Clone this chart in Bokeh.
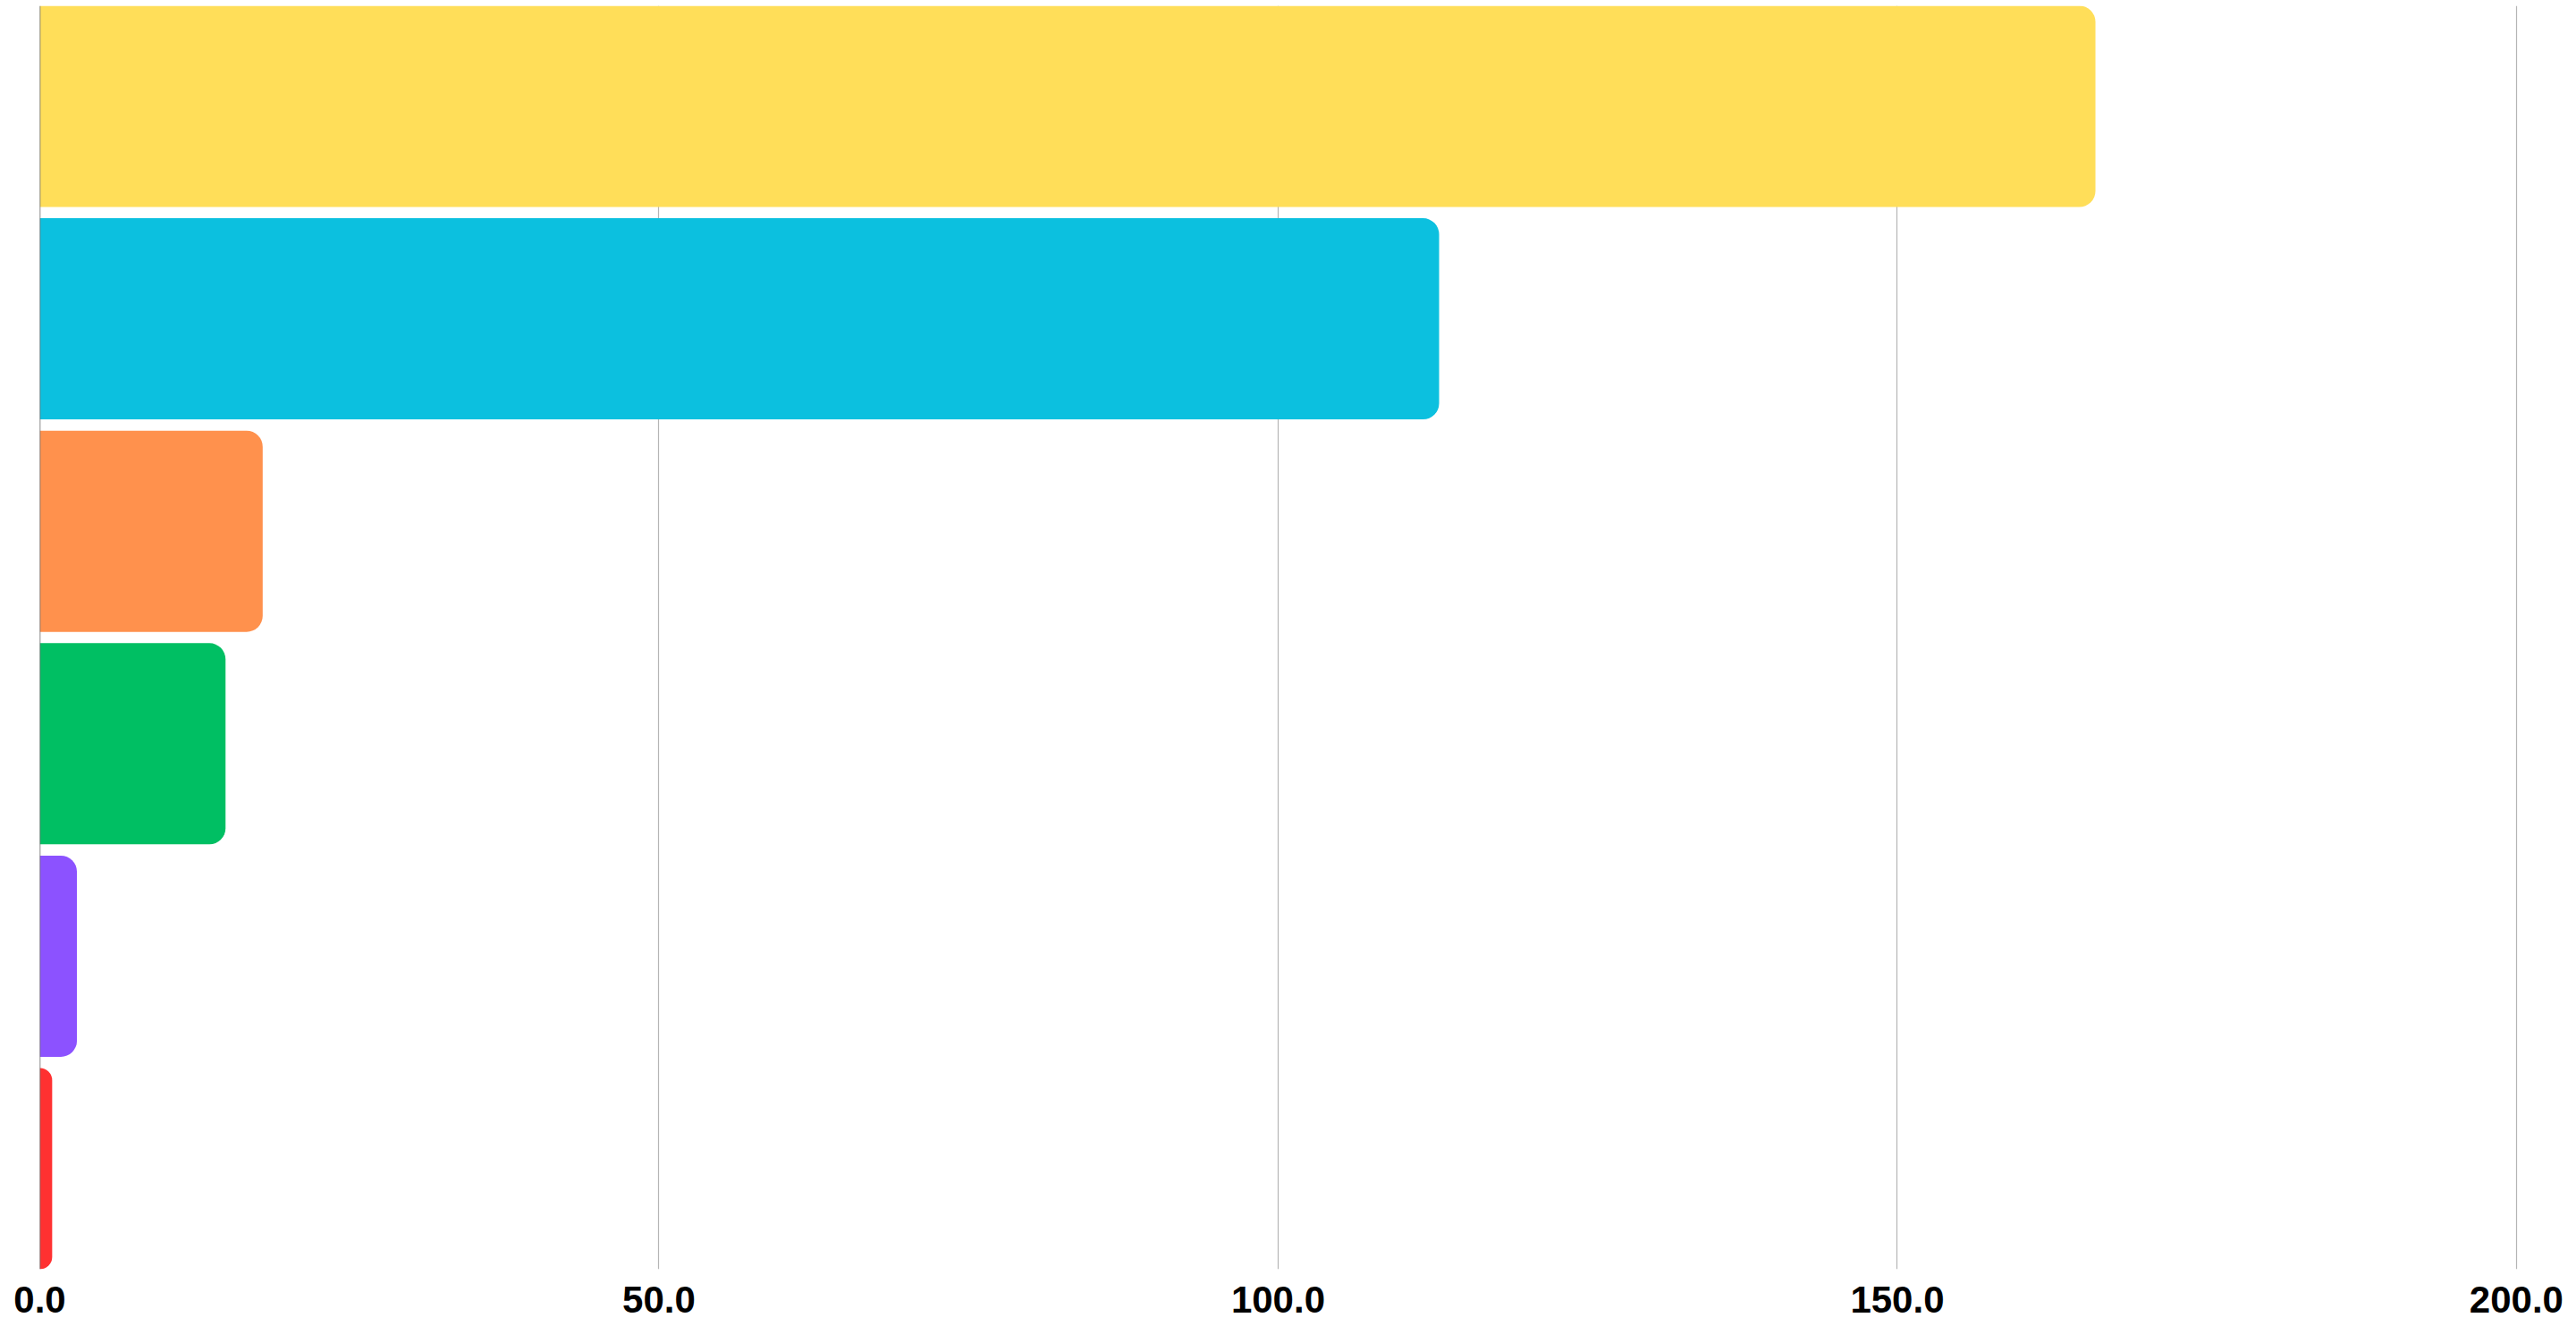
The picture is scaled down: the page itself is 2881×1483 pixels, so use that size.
from bokeh.plotting import figure
from bokeh.models import FixedTicker, NumeralTickFormatter, Span, Range1d, ColumnDataSource
from bokeh.embed import file_html
from bokeh.resources import INLINE

# Data (top to bottom)
categories = ["A", "B", "C", "D", "E", "F"]
values = [166, 113, 18, 15, 3, 1]
colors = ["#FFDE59", "#0CC0DF", "#FF914D", "#00BF63", "#8C52FF", "#FF3131"]
x_ticks = [0, 50, 100, 150, 200]

n = len(categories)
ypos = [n - 1 - i for i in range(n)]
bar_h = 0.947

src = ColumnDataSource(dict(cat=categories, y=ypos, value=values, color=colors))

p = figure(width=2875, height=1480, output_backend="svg", toolbar_location=None,
           x_range=Range1d(0, 200.15), y_range=Range1d(-bar_h / 2, n - 1 + bar_h / 2),
           min_border_left=44, min_border_right=59, min_border_top=6, min_border_bottom=61)
p.outline_line_color = None
p.background_fill_color = "white"
p.border_fill_color = "white"

p.hbar(y="y", left=0, right="value", height=bar_h, fill_color="color", line_color=None,
       source=src, border_radius=(0, 18, 18, 0))

p.add_layout(Span(location=0, dimension="height", line_color="#666666", line_width=1.5))

p.yaxis.visible = False
p.ygrid.grid_line_color = None

p.xgrid.ticker = FixedTicker(ticks=x_ticks)
p.xgrid.grid_line_color = "#b5b5b5"
p.xgrid.grid_line_width = 1.2

xa = p.xaxis[0]
xa.ticker = FixedTicker(ticks=x_ticks)
xa.formatter = NumeralTickFormatter(format="0.0")
xa.axis_line_color = None
xa.major_tick_line_color = None
xa.minor_tick_line_color = None
xa.major_tick_out = 0
xa.major_tick_in = 0
xa.major_label_standoff = 19
xa.major_label_text_font = "Liberation Sans"
xa.major_label_text_font_style = "bold"
xa.major_label_text_font_size = "42px"
xa.major_label_text_color = "black"

open("out.html", "w").write(file_html(p, INLINE))
